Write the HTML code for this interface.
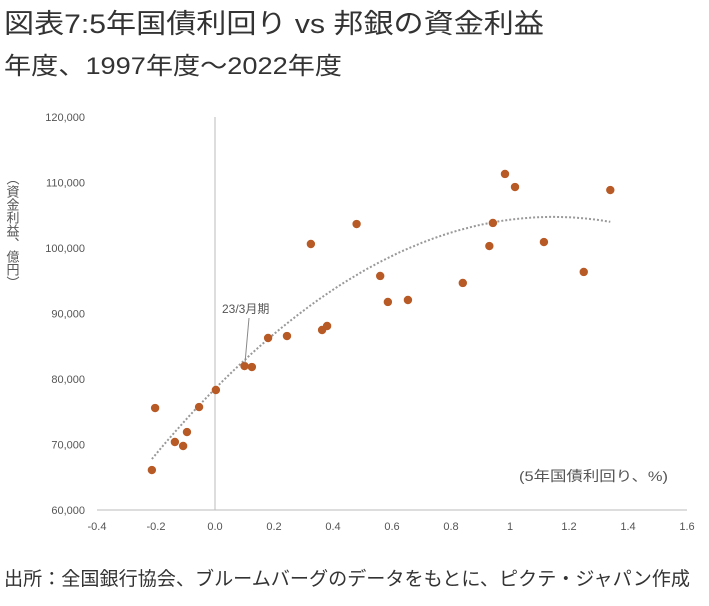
<!DOCTYPE html>
<html><head><meta charset="utf-8">
<style>
body{margin:0;background:#fff;width:709px;height:601px;overflow:hidden;font-family:"Liberation Sans","Noto Sans CJK JP",sans-serif;}
svg text{font-family:"Liberation Sans","Noto Sans CJK JP",sans-serif;}
</style></head>
<body>
<svg width="709" height="601" id="chart">
<text x="4" y="33" font-size="27" fill="#333" textLength="540" lengthAdjust="spacingAndGlyphs">図表7:5年国債利回り vs 邦銀の資金利益</text>
<text x="4" y="74" font-size="24" fill="#333" textLength="338" lengthAdjust="spacingAndGlyphs">年度、1997年度～2022年度</text>
<text x="4" y="585" font-size="19" fill="#333" textLength="686" lengthAdjust="spacingAndGlyphs">出所：全国銀行協会、ブルームバーグのデータをもとに、ピクテ・ジャパン作成</text>
<text x="12" y="172" font-size="13" fill="#555" writing-mode="tb">（資金利益、億円）</text>
<text x="519" y="481" font-size="14" fill="#555" textLength="149" lengthAdjust="spacingAndGlyphs">(5年国債利回り、%)</text>
<g id="axes"></g><g id="trend"></g><g id="pts"></g>
<line x1="245" y1="363" x2="249" y2="318" stroke="#888" stroke-width="1"/>
<text x="222" y="313" font-size="12" fill="#555">23/3月期</text>
</svg>
<script>
const xTicks=[-0.4,-0.2,0,0.2,0.4,0.6,0.8,1,1.2,1.4,1.6];
const xTickLabels=["-0.4","-0.2","0.0","0.2","0.4","0.6","0.8","1","1.2","1.4","1.6"];
const yTicks=[60000,70000,80000,90000,100000,110000,120000];
const yields=[-0.214,-0.203,-0.136,-0.108,-0.095,-0.054,0.003,0.10,0.125,0.18,0.244,0.325,0.363,0.38,0.48,0.56,0.586,0.654,0.84,0.93,0.942,0.983,1.017,1.115,1.25,1.34];
const income=[66100,75570,70380,69770,71900,75720,78320,81980,81830,86260,86560,100610,87480,88090,103660,95730,91760,92060,94660,100300,103820,111300,109310,100910,96340,108850];
const trendCoef=[78500,45800,-19980];
const X=v=>215+(v)*295;
const Y=v=>510-(v-60000)/10000*65.5;
const NS="http://www.w3.org/2000/svg";
function mk(t,a,p){const e=document.createElementNS(NS,t);for(const k in a)e.setAttribute(k,a[k]);p.appendChild(e);return e;}
const ax=document.getElementById('axes');
const xl=mk('line',{x1:X(-0.4),x2:X(1.6),y1:Y(60000),y2:Y(60000),stroke:'#bbb'},ax);


const yl=mk('line',{x1:X(0),x2:X(0),y1:Y(60000),y2:Y(120000),stroke:'#bbb'},ax);


xTicks.forEach((v,i)=>{const t=mk('text',{x:X(v),y:530,'font-size':11,fill:'#555','text-anchor':'middle'},ax);t.textContent=xTickLabels[i];

});
yTicks.forEach(v=>{const t=mk('text',{x:85,y:Y(v)+4,'font-size':11,fill:'#555','text-anchor':'end'},ax);t.textContent=v.toLocaleString('en-US');

});
let d='';const x0=Math.min(...yields),x1=Math.max(...yields);
for(let i=0;i<=100;i++){const x=x0+(x1-x0)*i/100;const y=trendCoef[0]+trendCoef[1]*x+trendCoef[2]*x*x;d+=(i?'L':'M')+X(x).toFixed(1)+','+Y(y).toFixed(1);}
const tr=mk('path',{d:d,fill:'none',stroke:'#999','stroke-width':2,'stroke-dasharray':'2,2'},document.getElementById('trend'));


const pg=document.getElementById('pts');
yields.forEach((v,i)=>{const c=mk('circle',{cx:X(v),cy:Y(income[i]),r:4.2,fill:'#b85a25'},pg);

});
</script>
</body></html>
